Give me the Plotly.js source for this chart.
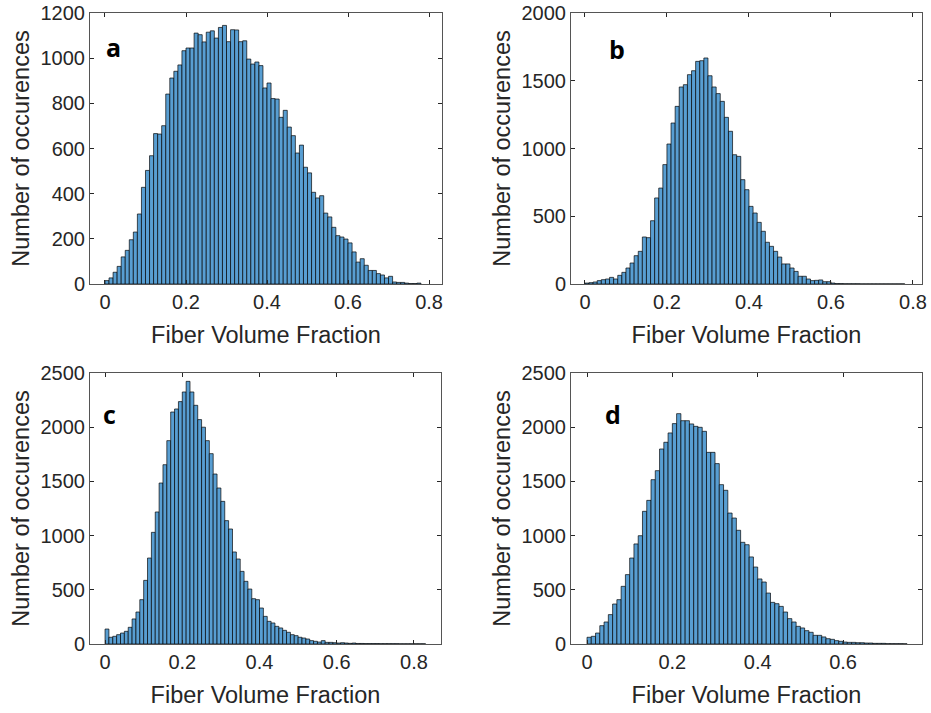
<!DOCTYPE html>
<html>
<head>
<meta charset="utf-8">
<script src="https://cdn.plot.ly/plotly-3.0.1.min.js"></script>
<style>html,body{margin:0;padding:0;background:#fff;}#chart{width:931px;height:713px;}</style>
</head>
<body>
<div id="chart"></div>
<script>
// Bin width of all four histograms (Fiber Volume Fraction)
const binWidth = 0.01;

// Panel a counts (bins starting at 0)
const countsA = [15,27,52,78,120,149,196,230,310,428,503,568,666,664,701,841,912,942,970,1033,
  1045,1045,1111,1104,1072,1115,1121,1089,1136,1145,1073,1126,1125,1073,1077,996,974,983,967,868,
  890,821,819,738,769,695,657,580,615,517,492,406,381,391,314,297,251,214,208,199,
  182,142,97,112,83,60,60,46,40,27,34,9,7,7,4,2,2,4];

// Panel b counts
const countsB = [7,10,15,25,32,37,49,37,64,86,118,155,209,241,347,342,467,635,708,881,
  1033,1188,1311,1454,1471,1545,1574,1643,1648,1668,1537,1454,1405,1348,1230,1127,954,942,770,696,
  573,524,455,389,308,278,241,199,148,148,118,93,57,57,37,25,27,30,17,17,
  7,3,3,2,2,2,2,1,1,1,1,1,1,1,1,1,1,1];

// Panel c counts
const countsC = [138,62,71,86,101,117,154,231,295,409,587,793,1030,1218,1485,1654,1876,2140,2168,2236,
  2325,2423,2325,2202,2070,2000,1876,1756,1568,1439,1316,1138,1061,849,784,670,578,507,418,409,
  332,255,209,194,163,148,126,108,86,77,62,55,46,31,25,18,31,15,15,12,
  9,12,9,6,9,5,5,4,4,4,4,3,3,3,3,3,2,2,2,2,2,2,2];

// Panel d counts
const countsD = [62,71,101,169,203,271,369,409,532,640,793,923,999,1224,1325,1516,1599,1799,1861,1947,
  2033,2125,2060,2060,2030,2008,1999,1962,1768,1768,1664,1470,1418,1208,1162,1049,938,916,803,710,
  600,572,470,384,372,347,295,234,203,163,148,123,108,80,80,65,49,43,31,25,
  18,15,15,12,12,9,9,6,6,6,3,3,3,3,2];

const panelLabels = ['a','b','c','d'];
const xTickVals = [0,0.2,0.4,0.6,0.8];
const xTickText = ['0','0.2','0.4','0.6','0.8'];
const yTickSets = [
  [0,200,400,600,800,1000,1200],
  [0,500,1000,1500,2000],
  [0,500,1000,1500,2000,2500],
  [0,500,1000,1500,2000,2500]
];
const xTitle = 'Fiber Volume Fraction';
const yTitle = 'Number of occurences';

function binCenters(n){ const c=[]; for(let i=0;i<n;i++) c.push((i+0.5)*binWidth); return c; }

const allCounts = [countsA,countsB,countsC,countsD];
const suffix = ['', '2', '3', '4'];
const traces = allCounts.map((cnt,k)=>({
  type:'bar', x: binCenters(cnt.length), y: cnt, width: binWidth,
  xaxis: 'x'+suffix[k], yaxis: 'y'+suffix[k],
  marker:{color:'rgb(88,158,210)', line:{color:'rgba(0,0,0,0.85)', width:0.8}},
  showlegend:false, hoverinfo:'x+y'
}));

const W=931, H=713;
const boxes = [
  {l:90, r:442, t:13, b:284, xr:[-0.037,0.832], yr:[0,1200]},
  {l:571, r:922, t:13, b:284, xr:[-0.034,0.822], yr:[0,2000]},
  {l:90, r:441, t:373, b:644, xr:[-0.039,0.870], yr:[0,2500]},
  {l:571, r:922, t:373, b:644, xr:[-0.0375,0.785], yr:[0,2500]}
];
const FAM = '"Liberation Sans", Arial, Helvetica, sans-serif';
const tickFont = {family:FAM, size:20, color:'#262626'};
const titleFont = {family:FAM, size:23.5, color:'#262626'};

const layout = {
  width:W, height:H, margin:{l:0,r:0,t:0,b:0},
  paper_bgcolor:'#fff', plot_bgcolor:'#fff',
  bargap:0, showlegend:false, annotations:[]
};
boxes.forEach((bx,k)=>{
  const s = suffix[k];
  layout['xaxis'+s] = {
    domain:[bx.l/W, bx.r/W], range:bx.xr, anchor:'y'+s,
    tickvals:xTickVals, ticktext:xTickText, ticks:'inside', ticklen:4, tickcolor:'#262626',
    showline:true, linecolor:'#555', linewidth:1, mirror:'ticks', showgrid:false, zeroline:false,
    tickfont:tickFont, title:{text:xTitle, font:titleFont, standoff:14}, automargin:false, fixedrange:true
  };
  layout['yaxis'+s] = {
    domain:[1-bx.b/H, 1-bx.t/H], range:bx.yr, anchor:'x'+s,
    tickvals:yTickSets[k], ticks:'inside', ticklen:4, tickcolor:'#262626',
    showline:true, linecolor:'#555', linewidth:1, mirror:'ticks', showgrid:false, zeroline:false,
    tickfont:tickFont, title:{text:yTitle, font:titleFont, standoff:4}, automargin:false, fixedrange:true
  };
});
const labelPos = [[113,47],[617,49],[109,414],[613,414]];
labelPos.forEach((p,k)=>{
  layout.annotations.push({
    text:'<b>'+panelLabels[k]+'</b>', xref:'paper', yref:'paper', x:p[0]/W, y:1-p[1]/H,
    xanchor:'center', yanchor:'middle', showarrow:false,
    font:{family:'"Open Sans", "Liberation Sans", Arial, sans-serif', size:25, color:'#000'}
  });
});
Plotly.newPlot('chart', traces, layout, {staticPlot:true});
</script>
</body>
</html>
